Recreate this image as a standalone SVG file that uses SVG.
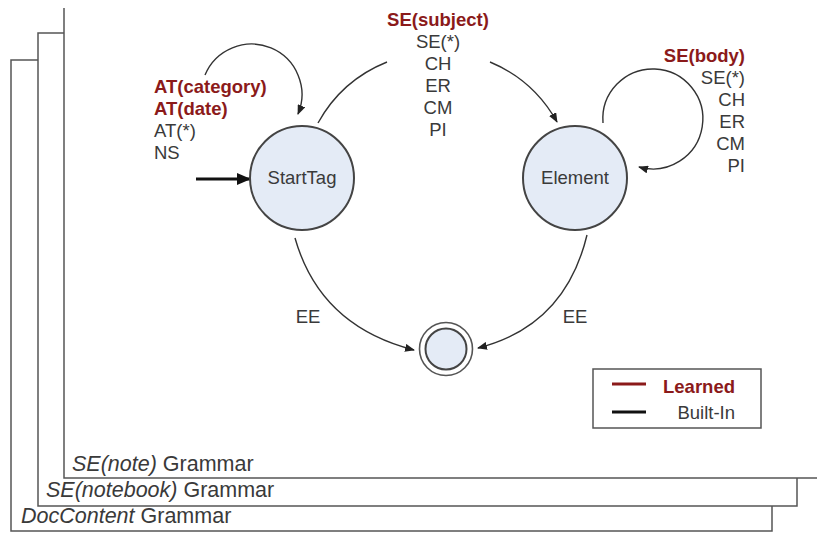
<svg xmlns="http://www.w3.org/2000/svg" width="817" height="533" viewBox="0 0 817 533">
<style>
text{font-family:"Liberation Sans",Arial,sans-serif;font-size:18.5px;fill:#3a3a3a}
.red{fill:#8B1A1A;font-weight:bold}
.frame{fill:#fff;stroke:#555;stroke-width:1.5}
.ftxt{font-size:21.5px}
.node{fill:#E4EBF6;stroke:#444;stroke-width:2}
.conn{fill:none;stroke:#333;stroke-width:1.4}
</style>
<defs>
<marker id="ah" markerUnits="userSpaceOnUse" markerWidth="10" markerHeight="8" refX="9" refY="4" orient="auto">
<path d="M0,0 L10,4 L0,8 Z" fill="#222"/>
</marker>
<marker id="ahBig" markerUnits="userSpaceOnUse" markerWidth="14" markerHeight="12" refX="13" refY="6" orient="auto">
<path d="M0,0 L14,6 L0,12 Z" fill="#111"/>
</marker>
</defs>
<rect width="817" height="533" fill="#fff"/>
<g id="frame-doccontent">
<rect class="frame" x="11" y="60" width="761" height="471"/>
<text x="21" y="523"><tspan class="ftxt" font-style="italic">DocContent</tspan><tspan class="ftxt"> Grammar</tspan></text>
</g>
<g id="frame-notebook">
<rect class="frame" x="38" y="33" width="759" height="473"/>
<text x="46" y="497"><tspan class="ftxt" font-style="italic">SE(notebook)</tspan><tspan class="ftxt"> Grammar</tspan></text>
</g>
<g id="frame-note">
<rect x="64" y="8" width="760" height="470" fill="#fff"/>
<path d="M64,8 V478 H820" fill="none" stroke="#555" stroke-width="1.5"/>
<text x="72" y="471"><tspan class="ftxt" font-style="italic">SE(note)</tspan><tspan class="ftxt"> Grammar</tspan></text>
</g>
<g id="connectors">
<path class="conn" d="M205,75 A50,50 0 1 1 298,114" marker-end="url(#ah)"/>
<path class="conn" d="M318,123 A137,137 0 0 1 387,62"/>
<path class="conn" d="M490,62 A137,137 0 0 1 557,122" marker-end="url(#ah)"/>
<path class="conn" d="M603,123 A50,50 0 1 1 639,167" marker-end="url(#ah)"/>
<path class="conn" d="M295,238 Q320,326 414,350" marker-end="url(#ah)"/>
<path class="conn" d="M587,235 Q565,326 478,348" marker-end="url(#ah)"/>
<path d="M196,179 H250" fill="none" stroke="#111" stroke-width="3.2" marker-end="url(#ahBig)"/>
<text x="154" y="93" class="red">AT(category)</text>
<text x="154" y="115" class="red">AT(date)</text>
<text x="154" y="137">AT(*)</text>
<text x="154" y="159">NS</text>
<g text-anchor="middle">
<text x="438" y="26" class="red">SE(subject)</text>
<text x="438" y="48">SE(*)</text>
<text x="438" y="70">CH</text>
<text x="438" y="92">ER</text>
<text x="438" y="114">CM</text>
<text x="438" y="136">PI</text>
</g>
<g text-anchor="end">
<text x="745" y="62" class="red">SE(body)</text>
<text x="745" y="84">SE(*)</text>
<text x="745" y="106">CH</text>
<text x="745" y="128">ER</text>
<text x="745" y="150">CM</text>
<text x="745" y="172">PI</text>
</g>
<text x="308" y="323" text-anchor="middle">EE</text>
<text x="575" y="323" text-anchor="middle">EE</text>
</g>
<g id="node-starttag">
<circle class="node" cx="302" cy="178" r="52"/>
<text x="302" y="184" text-anchor="middle">StartTag</text>
</g>
<g id="node-element">
<circle class="node" cx="575" cy="178" r="52"/>
<text x="575" y="184" text-anchor="middle">Element</text>
</g>
<g id="node-final">
<circle cx="446" cy="349" r="26.5" fill="#fff" stroke="#555" stroke-width="1.6"/>
<circle class="node" cx="446" cy="349" r="20.5" stroke-width="1.6"/>
</g>
<g id="legend">
<rect x="593" y="369" width="168" height="59" fill="#fff" stroke="#555" stroke-width="1.5"/>
<line x1="612" y1="384" x2="646" y2="384" stroke="#8B1A1A" stroke-width="3"/>
<line x1="612" y1="412" x2="646" y2="412" stroke="#111" stroke-width="3"/>
<text x="735" y="393" text-anchor="end" class="red">Learned</text>
<text x="735" y="419" text-anchor="end">Built-In</text>
</g>
</svg>
